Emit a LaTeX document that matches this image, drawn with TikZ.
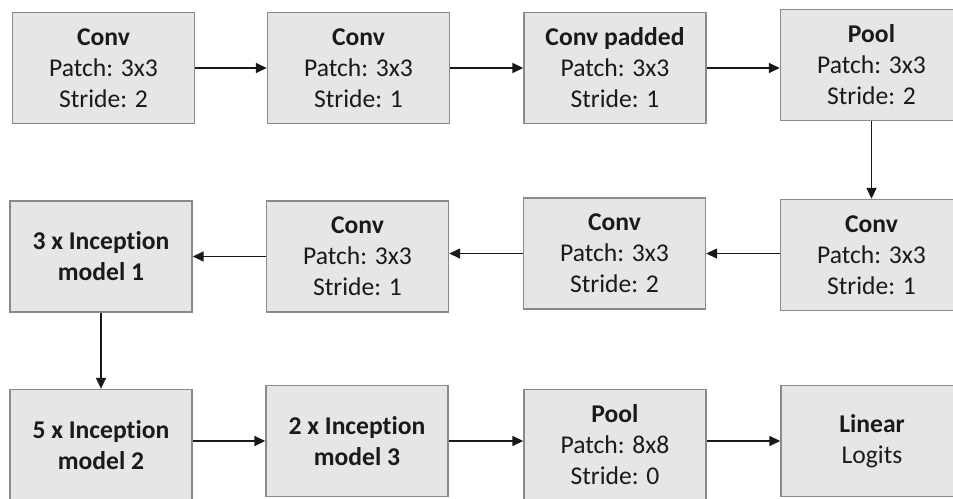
\documentclass[tikz,border=0pt]{standalone}
\usepackage{fontspec}
\setmainfont{Carlito}[Ligatures={NoCommon}]
\usetikzlibrary{arrows.meta}
\definecolor{boxfill}{HTML}{E6E6E6}
\definecolor{boxline}{HTML}{8A8A8A}
\definecolor{txt}{HTML}{1A1A1A}
\begin{document}
\begin{tikzpicture}[x=1pt,y=-1pt,
  blk/.style={draw=boxline,fill=boxfill,line width=1.4pt,minimum width=182pt,minimum height=111pt,
    inner sep=0pt,align=center,text=txt,font=\fontsize{25.6}{31}\selectfont},
  conn/.style={line width=1.5pt,draw=black!90,-{Triangle[length=11pt,width=10pt]}}]
\useasboundingbox (0,0) rectangle (953,498);
\clip (0,0) rectangle (953,498);
% row 1
\node[blk] (b1) at (103.5,68) {\textbf{Conv}\\Patch: 3x3\\Stride: 2};
\node[blk] (b2) at (358.5,68) {\textbf{Conv}\\Patch: 3x3\\Stride: 1};
\node[blk] (b3) at (615,68) {\textbf{Conv padded}\\Patch: 3x3\\Stride: 1};
\node[blk] (b4) at (871.5,65) {\textbf{Pool}\\Patch: 3x3\\Stride: 2};
% row 2
\node[blk] (r1) at (101,256.5) {\textbf{3 x Inception}\\\textbf{model 1}};
\node[blk] (r2) at (357.5,256.5) {\textbf{Conv}\\Patch: 3x3\\Stride: 1};
\node[blk] (r3) at (614.5,253.5) {\textbf{Conv}\\Patch: 3x3\\Stride: 2};
\node[blk] (r4) at (871.5,255) {\textbf{Conv}\\Patch: 3x3\\Stride: 1};
% row 3
\node[blk] (c1) at (101,445) {\textbf{5 x Inception}\\\textbf{model 2}};
\node[blk] (c2) at (357,441) {\textbf{2 x Inception}\\\textbf{model 3}};
\node[blk] (c3) at (615,445) {\textbf{Pool}\\Patch: 8x8\\Stride: 0};
\node[blk] (c4) at (872,441) {\textbf{Linear}\\Logits};
% connectors
\draw[conn] (b1.east) -- (b2.west);
\draw[conn] (b2.east) -- (b3.west);
\draw[conn] (b3.east) -- (b3.east -| b4.west);
\draw[conn] (b4.south) -- (r4.north);
\draw[conn] (r4.west |- r3.west) -- (r3.east);
\draw[conn] (r3.west) -- (r3.west -| r2.east);
\draw[conn] (r2.west) -- (r1.east);
\draw[conn] (r1.south) -- (c1.north);
\draw[conn] (c1.east |- c2.west) -- (c2.west);
\draw[conn] (c2.east) -- (c2.east -| c3.west);
\draw[conn] (c3.east |- c4.west) -- (c4.west);
\end{tikzpicture}
\end{document}
